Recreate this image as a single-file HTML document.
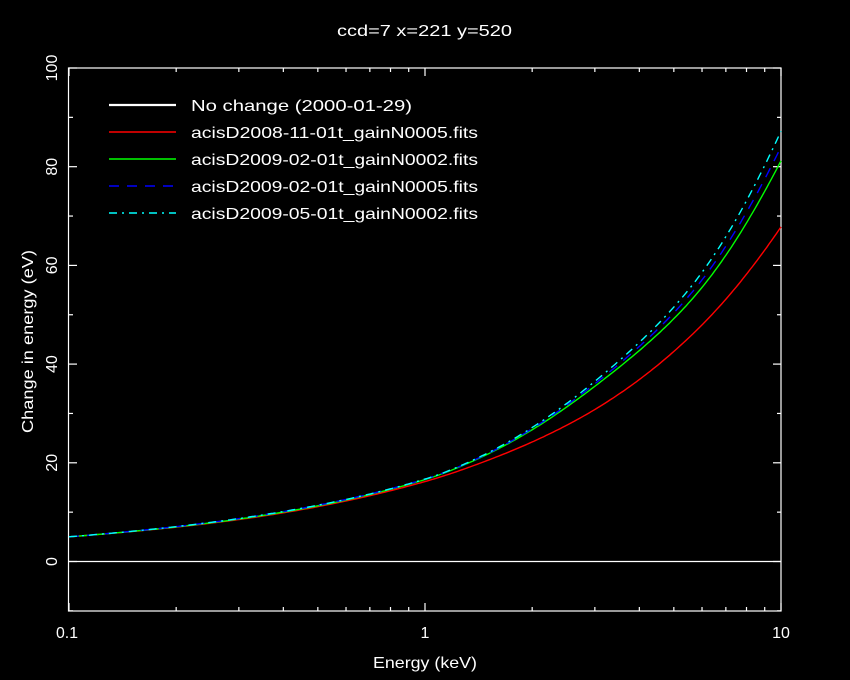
<!DOCTYPE html>
<html><head><meta charset="utf-8"><style>
html,body{margin:0;padding:0;background:#000;}
svg{display:block;}
text{font-family:"Liberation Sans",sans-serif;fill:#fff;font-size:16px;}
</style></head><body>
<svg id="s" width="850" height="680" viewBox="0 0 850 680" xmlns="http://www.w3.org/2000/svg">
<rect width="850" height="680" fill="#000"/>
<g id="ax" stroke="#fff" stroke-width="1.2" fill="none">
<rect x="68.5" y="68" width="712.5" height="543"/>
<line x1="69" y1="561.5" x2="781" y2="561.5"/>
</g>
<g id="curves" fill="none" stroke-width="1.4"></g>
<text x="337" y="36" textLength="175" lengthAdjust="spacingAndGlyphs">ccd=7 x=221 y=520</text>
<text x="373" y="668" textLength="104" lengthAdjust="spacingAndGlyphs">Energy (keV)</text>
<text transform="translate(33,433) rotate(-90)" textLength="183" lengthAdjust="spacingAndGlyphs">Change in energy (eV)</text>
<text x="56" y="638" textLength="22" lengthAdjust="spacingAndGlyphs">0.1</text>
<text x="425" y="638" text-anchor="middle">1</text>
<text x="781" y="638" text-anchor="middle">10</text>
<g text-anchor="middle">
<text transform="translate(57,68) rotate(-90)">100</text>
<text transform="translate(57,166.7) rotate(-90)">80</text>
<text transform="translate(57,265.4) rotate(-90)">60</text>
<text transform="translate(57,364.1) rotate(-90)">40</text>
<text transform="translate(57,462.8) rotate(-90)">20</text>
<text transform="translate(57,561.5) rotate(-90)">0</text>
</g>
<g stroke-width="1.6">
<line x1="109" y1="105" x2="176" y2="105" stroke="#fff" stroke-width="2.2"/>
<line x1="109" y1="132" x2="176" y2="132" stroke="#f00"/>
<line x1="109" y1="159" x2="176" y2="159" stroke="#0f0"/>
<line x1="109" y1="186" x2="176" y2="186" stroke="#00f" stroke-dasharray="10,8"/>
<line x1="109" y1="213" x2="176" y2="213" stroke="#0ff" stroke-dasharray="8,5,2,5"/>
</g>
<text x="191" y="111" textLength="221" lengthAdjust="spacingAndGlyphs">No change (2000-01-29)</text>
<text x="191" y="138" textLength="287" lengthAdjust="spacingAndGlyphs">acisD2008-11-01t_gainN0005.fits</text>
<text x="191" y="165" textLength="287" lengthAdjust="spacingAndGlyphs">acisD2009-02-01t_gainN0002.fits</text>
<text x="191" y="192" textLength="287" lengthAdjust="spacingAndGlyphs">acisD2009-02-01t_gainN0005.fits</text>
<text x="191" y="219" textLength="287" lengthAdjust="spacingAndGlyphs">acisD2009-05-01t_gainN0002.fits</text>
</svg>
<script>
(function(){
var NS="http://www.w3.org/2000/svg";
var ax=document.getElementById("ax"),cg=document.getElementById("curves");
function X(E){return 69+356*(Math.log10(E)+1);}
function Y(v){return 561.5-v*4.935;}
function ln(x1,y1,x2,y2){var l=document.createElementNS(NS,"line");l.setAttribute("x1",x1);l.setAttribute("y1",y1);l.setAttribute("x2",x2);l.setAttribute("y2",y2);ax.appendChild(l);}
for(var d=0.1;d<=10;d*=10){for(var k=1;k<=9;k++){var E=d*k;if(E>10.0001)break;var x=X(E);var L=(k==1)?8:4;ln(x,68,x,68+L);ln(x,611,x,611-L);}}
for(var v=-10;v<=100;v+=10){var y=Y(v);var L=(v%20==0)?8:4;ln(69,y,69+L,y);ln(781,y,781-L,y);}
var ts=[-1,-0.523,0,0.154,0.477,0.772,1];
var S=[["#f00",[5,8.5,16.2,19.9,30.8,47.5,67.8],""],
["#0f0",[5,8.6,16.6,21.0,35.5,55,81.2],""],
["#00f",[5,8.7,16.7,21.1,36,56.5,84],"10,8"],
["#0ff",[5,8.7,16.7,21.2,36.5,58,87.2],"8,5,2,5"]];
var n=ts.length;
S.forEach(function(s){
 var g=s[1].map(Math.log);var pts=[];
 function m(k){if(k==0)return (g[1]-g[0])/(ts[1]-ts[0]);if(k==n-1)return (g[n-1]-g[n-2])/(ts[n-1]-ts[n-2]);return (g[k+1]-g[k-1])/(ts[k+1]-ts[k-1]);}
 for(var i=0;i<=300;i++){var t=-1+2*i/300;var j=0;while(j<n-2&&t>ts[j+1])j++;
  var t0=ts[j],t1=ts[j+1];var h=t1-t0;
  var u=(t-t0)/h,u2=u*u,u3=u2*u;
  var val=(2*u3-3*u2+1)*g[j]+(u3-2*u2+u)*h*m(j)+(-2*u3+3*u2)*g[j+1]+(u3-u2)*h*m(j+1);
  var E=Math.pow(10,t);pts.push(X(E).toFixed(1)+","+Y(Math.exp(val)).toFixed(1));}
 var p=document.createElementNS(NS,"polyline");p.setAttribute("points",pts.join(" "));p.setAttribute("stroke",s[0]);if(s[2])p.setAttribute("stroke-dasharray",s[2]);cg.appendChild(p);
});
})();
</script>
</body></html>
